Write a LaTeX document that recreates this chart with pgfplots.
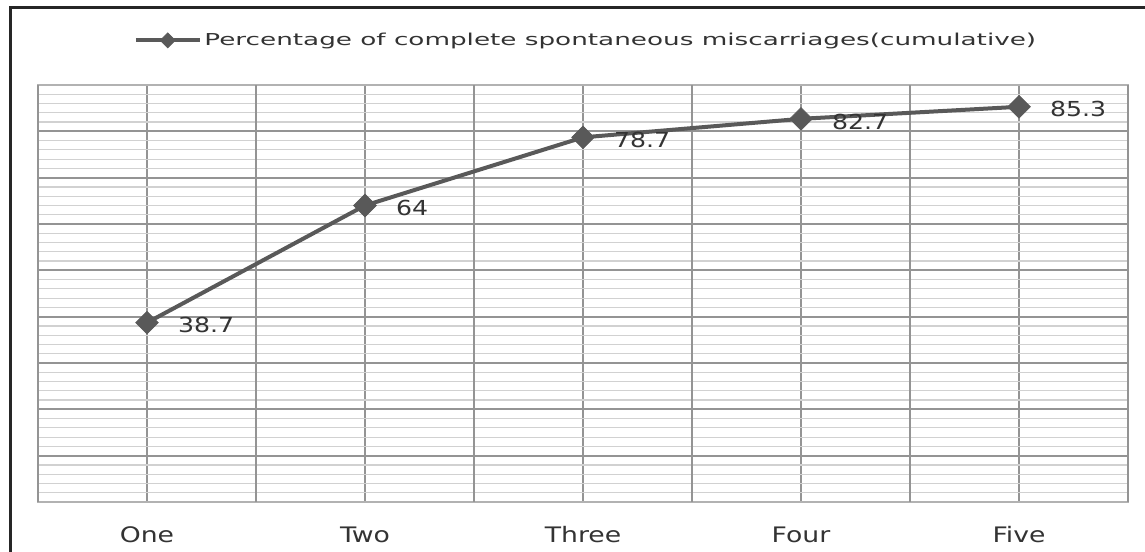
\documentclass[border=0pt]{standalone}
\usepackage{fontspec}
\setmainfont{DejaVu Sans}
\newfontfamily\lblfont[FakeStretch=1.22]{DejaVu Sans}
\newfontfamily\ticfont[FakeStretch=1.25]{DejaVu Sans}
\newfontfamily\legfont[FakeStretch=1.6]{DejaVu Sans}
\usepackage{pgfplots}
\pgfplotsset{compat=1.18}
\usepackage{pgfplotstable}
\definecolor{linec}{HTML}{595959}
\definecolor{txtc}{HTML}{333333}
\pgfplotstableread{
x y label
0 38.7 38.7
1 64 64
2 78.7 78.7
3 82.7 82.7
4 85.3 85.3
}\datatable
\begin{document}
\begin{tikzpicture}
\useasboundingbox (-28.5pt,-37.5pt) rectangle (830.25pt,376.5pt);
\begin{axis}[
  at={(0,0)}, anchor=south west,
  scale only axis,
  width=817.5pt, height=312.75pt,
  xmin=-0.5, xmax=4.5, ymin=0, ymax=90,
  xtick={0,1,2,3,4},
  xticklabels={One,Two,Three,Four,Five},
  extra x ticks={-0.5,0.5,1.5,2.5,3.5,4.5},
  extra x tick labels={},
  extra x tick style={grid=major, major tick length=0pt},
  ytick={0,10,20,30,40,50,60,70,80,90},
  yticklabel=\empty,
  minor ytick={2,4,6,8,12,14,16,18,22,24,26,28,32,34,36,38,42,44,46,48,52,54,56,58,62,64,66,68,72,74,76,78,82,84,86,88},
  major tick length=0pt, minor tick length=0pt,
  xmajorgrids, ymajorgrids, yminorgrids,
  major grid style={draw=black!42, line width=1.5pt},
  minor grid style={draw=black!18, line width=0.9pt},
  axis line style={draw=black!30, line width=1.2pt},
  xticklabel style={font=\ticfont\fontsize{16pt}{19pt}\selectfont, text=txtc, anchor=center, yshift=-24.5pt},
  legend style={at={(axis description cs:0.503,1.107)}, anchor=center, draw=none, fill=none,
    font=\legfont\fontsize{12.3pt}{14pt}\selectfont, text=txtc, inner sep=0pt},
  legend image code/.code={
    \draw[#1, mark=none] (0pt,0pt) -- (48pt,0pt);
    \draw[#1, only marks, mark size=4pt] plot coordinates {(24pt,0pt)};
  },
  nodes near coords,
  point meta=explicit symbolic,
  nodes near coords align={horizontal},
  every node near coord/.append style={anchor=west, xshift=23pt, yshift=-2pt, inner sep=0pt,
    font=\lblfont\fontsize{15.5pt}{18pt}\selectfont, text=txtc},
]
\addplot[color=linec, line width=3pt, mark=square*, mark size=6pt,
  mark options={rotate=45, fill=linec, draw=linec, line width=0.5pt}]
  table[x=x, y=y, meta=label] {\datatable};
\addlegendentry{Percentage of complete spontaneous miscarriages(cumulative)}
\end{axis}
\draw[line width=2.25pt, color=black!85] (-21pt,-40pt) -- (-21pt,370.5pt) -- (840pt,370.5pt);
\end{tikzpicture}
\end{document}
